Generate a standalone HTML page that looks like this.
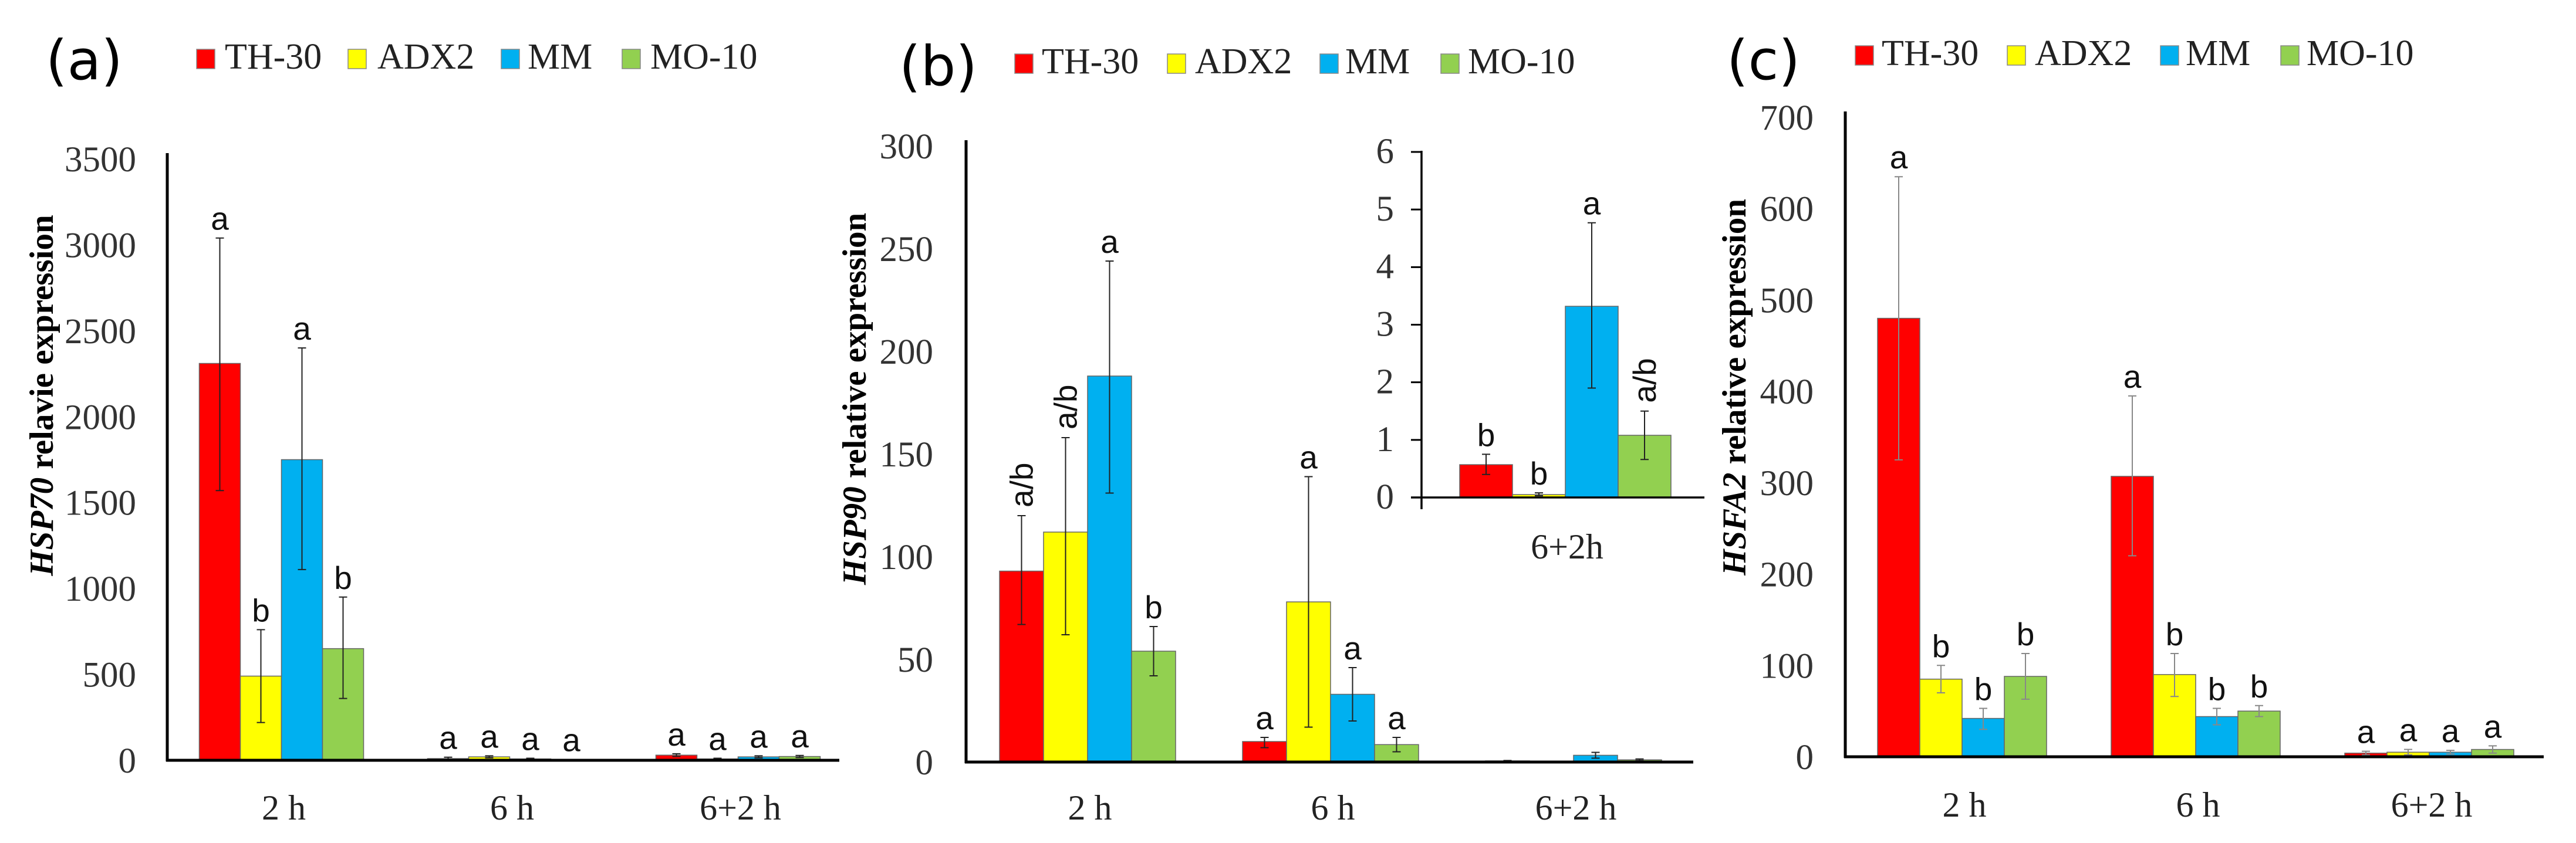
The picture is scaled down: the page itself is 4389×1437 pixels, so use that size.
<!DOCTYPE html>
<html><head><meta charset="utf-8">
<style>
html,body{margin:0;padding:0;background:#fff;}
svg{display:block;}
.tick{font-family:"Liberation Serif",serif;font-size:61px;fill:#333;}
.cat{font-family:"Liberation Serif",serif;font-size:60px;fill:#222;}
.leg{font-family:"Liberation Serif",serif;font-size:62px;fill:#222;}
.ytitle{font-family:"Liberation Serif",serif;font-size:57px;font-weight:bold;fill:#000;}
.let{font-family:"Liberation Sans",sans-serif;font-size:55px;fill:#111;}
.plab{font-family:"DejaVu Sans","Liberation Sans",sans-serif;font-size:94px;fill:#000;}
</style></head>
<body>
<svg id="fig" width="4389" height="1437" viewBox="0 0 4389 1437" xmlns="http://www.w3.org/2000/svg">
<text class="plab" x="78" y="135">(a)</text>
<text class="plab" x="1532" y="145">(b)</text>
<text class="plab" x="2942" y="135">(c)</text>
</svg>
<script>
const series = ["TH-30","ADX2","MM","MO-10"];
const colors = ["#ff0000","#ffff00","#00b0f0","#92d050"];
const categories = ["2 h","6 h","6+2 h"];

// Panel a: HSP70
const aValues = [[2310,10,30],[490,20,8],[1750,8,20],[650,3,22]];
const aErrHi  = [[3040,18,38],[760,26,12],[2400,12,26],[950,5,28]];
const aErrLo  = [[1570,4,22],[220,14,4],[1110,4,14],[360,1,16]];
const aLetters = [["a","a","a"],["b","a","a"],["a","a","a"],["b","a","a"]];
const aTicks = [0,500,1000,1500,2000,2500,3000,3500];

// Panel b: HSP90
const bValues = [[93,10,0.57],[112,78,0.06],[188,33,3.3],[54,8.5,1.08]];
const bErrHi  = [[120,12,0.75],[158,139,0.08],[244,46,4.7],[66,12,1.5]];
const bErrLo  = [[67,7,0.4],[62,17,0.04],[131,20,1.9],[42,5,0.66]];
const bLetters = [["a/b","a",""],["a/b","a",""],["a","a",""],["b","a",""]];
const bTicks = [0,50,100,150,200,250,300];

// Inset (b): 6+2h
const insetCategories = ["6+2h"];
const insetValues = [0.57,0.05,3.32,1.08];
const insetErrHi  = [0.75,0.08,4.77,1.5];
const insetErrLo  = [0.4,0.03,1.9,0.66];
const insetLetters = ["b","b","a","a/b"];
const insetTicks = [0,1,2,3,4,5,6];

// Panel c: HSFA2
const cValues = [[480,307,4],[85,90,5],[42,44,5],[88,50,8]];
const cErrHi  = [[635,395,6],[100,113,8],[53,53,7],[113,56,12]];
const cErrLo  = [[325,220,2],[70,66,2],[30,35,3],[63,44,4]];
const cLetters = [["a","a","a"],["b","b","a"],["b","b","a"],["b","b","a"]];
const cTicks = [0,100,200,300,400,500,600,700];

const NS="http://www.w3.org/2000/svg";
const svg=document.getElementById('fig');
function el(tag,attrs,parent,text){const e=document.createElementNS(NS,tag);for(const k in attrs)e.setAttribute(k,attrs[k]);if(text!==undefined)e.textContent=text;(parent||svg).appendChild(e);return e;}

function drawLegend(g,sqX,txtX,y){
  series.forEach((s,i)=>{
    const r=el('rect',{x:sqX[i],y:y,width:31,height:33,fill:colors[i],stroke:'#888','stroke-width':1.5},g);
    
    
    const t=el('text',{class:'leg',x:txtX[i],y:y+33},g,s);
    
    
  });
}

function drawLetter(g,txt,cx,yTop,rotated,cls){
  if(!txt) return;
  let t;
  if(rotated){
    t=el('text',{class:cls||'let',x:0,y:0,transform:`translate(${cx+19},${yTop-14}) rotate(-90)`,'text-anchor':'start'},g,txt);
  } else {
    t=el('text',{class:cls||'let',x:cx,y:yTop-14,'text-anchor':'middle'},g,txt);
  }
  
  
}

function drawPanel(cfg){
  const g=el('g',{});
  
  
  const y=v=>cfg.base-(v/cfg.max)*(cfg.base-cfg.top);
  const bandX=i=>cfg.x0+(i+0.5)*cfg.band;
  cfg.ticks.forEach(tv=>{
    const t=el('text',{class:'tick',x:cfg.tickRight,y:y(tv)+21,'text-anchor':'end'},g,String(tv));
    
    
  });
  cfg.values.forEach((row,s)=>{
    row.forEach((v,c)=>{
      const cx=bandX(c)+(s-1.5)*cfg.bw;
      const r=el('rect',{x:cx-cfg.bw/2,y:y(v),width:cfg.bw,height:cfg.base-y(v),fill:colors[s],stroke:'#666','stroke-width':1.5},g);
      
      
      const hi=y(cfg.hi[s][c]), lo=y(cfg.lo[s][c]);
      const e=el('path',{d:`M${cx},${hi}V${lo}M${cx-7},${hi}H${cx+7}M${cx-7},${lo}H${cx+7}`,stroke:cfg.errColor,'stroke-width':2,fill:'none'},g);
      
      
      drawLetter(g,cfg.letters[s][c],cx,hi,cfg.letters[s][c].length>1);
    });
  });
  const ya=el('line',{x1:cfg.x0,y1:cfg.top-10,x2:cfg.x0,y2:cfg.base+2,stroke:'#000','stroke-width':5},g);
  
  
  const xa=el('line',{x1:cfg.x0-2,y1:cfg.base,x2:cfg.xEnd,y2:cfg.base,stroke:'#000','stroke-width':5},g);
  
  
  categories.forEach((c,i)=>{
    const t=el('text',{class:'cat',x:bandX(i)+4,y:cfg.catY,'text-anchor':'middle'},g,c);
    
    
  });
  const yt=el('text',{class:'ytitle',x:0,y:0,transform:`translate(${cfg.titleX},${cfg.titleY}) rotate(-90)`,'text-anchor':'middle'},g);
  
  
  el('tspan',{'font-style':'italic'},yt,cfg.gene);
  el('tspan',{},yt,cfg.titleRest);
  drawLegend(g,cfg.legSq,cfg.legTx,cfg.legY);
}

drawPanel({name:'panel-a-hsp70',values:aValues,hi:aErrHi,lo:aErrLo,letters:aLetters,ticks:aTicks,max:3500,
  base:1296,top:271,x0:285,band:389,bw:70,xEnd:1430,tickRight:232,catY:1397,errColor:'#222',
  titleX:90,titleY:674,gene:'HSP70',titleRest:' relavie expression',
  legSq:[335,593,854,1060],legTx:[383,643,899,1108],legY:84});

drawPanel({name:'panel-b-hsp90',values:bValues,hi:bErrHi,lo:bErrLo,letters:bLetters,ticks:bTicks,max:300,
  base:1299,top:249,x0:1646,band:414,bw:75,xEnd:2885,tickRight:1590,catY:1397,errColor:'#222',
  titleX:1475,titleY:680,gene:'HSP90',titleRest:' relative expression',
  legSq:[1729,1989,2249,2455],legTx:[1775,2036,2292,2501],legY:92});

drawPanel({name:'panel-c-hsfa2',values:cValues,hi:cErrHi,lo:cErrLo,letters:cLetters,ticks:cTicks,max:700,
  base:1290,top:200,x0:3144,band:398,bw:72,xEnd:4334,tickRight:3090,catY:1392,errColor:'#888',
  titleX:2974,titleY:660,gene:'HSFA2',titleRest:' relative expression',
  legSq:[3161,3420,3681,3886],legTx:[3206,3467,3724,3930],legY:78});

(function(){
  const g=el('g',{});
  
  
  const base=848, top=259, max=6, x0=2422, xEnd=2904, bw=90, cxg=2667;
  const y=v=>base-(v/max)*(base-top);
  insetTicks.forEach(tv=>{
    const t=el('text',{class:'tick',x:2375,y:y(tv)+19,'text-anchor':'end','font-size':'55'},g,String(tv));
    
    
    el('line',{x1:x0-18,y1:y(tv),x2:x0,y2:y(tv),stroke:'#000','stroke-width':3},g);
  });
  insetValues.forEach((v,s)=>{
    const cx=cxg+(s-1.5)*bw;
    const r=el('rect',{x:cx-bw/2,y:y(v),width:bw,height:base-y(v),fill:colors[s],stroke:'#666','stroke-width':1.5},g);
    
    
    const hi=y(insetErrHi[s]), lo=y(insetErrLo[s]);
    const e=el('path',{d:`M${cx},${hi}V${lo}M${cx-7},${hi}H${cx+7}M${cx-7},${lo}H${cx+7}`,stroke:'#222','stroke-width':2,fill:'none'},g);
    
    
    drawLetter(g,insetLetters[s],cx,hi,insetLetters[s].length>1);
  });
  const ya=el('line',{x1:x0,y1:top-2,x2:x0,y2:base+20,stroke:'#000','stroke-width':3.5},g);
  
  
  const xa=el('line',{x1:x0-18,y1:base,x2:xEnd,y2:base,stroke:'#000','stroke-width':3.5},g);
  
  
  const t=el('text',{class:'cat',x:cxg+3,y:952,'text-anchor':'middle'},g,insetCategories[0]);
  
  
})();
</script>
</body></html>
